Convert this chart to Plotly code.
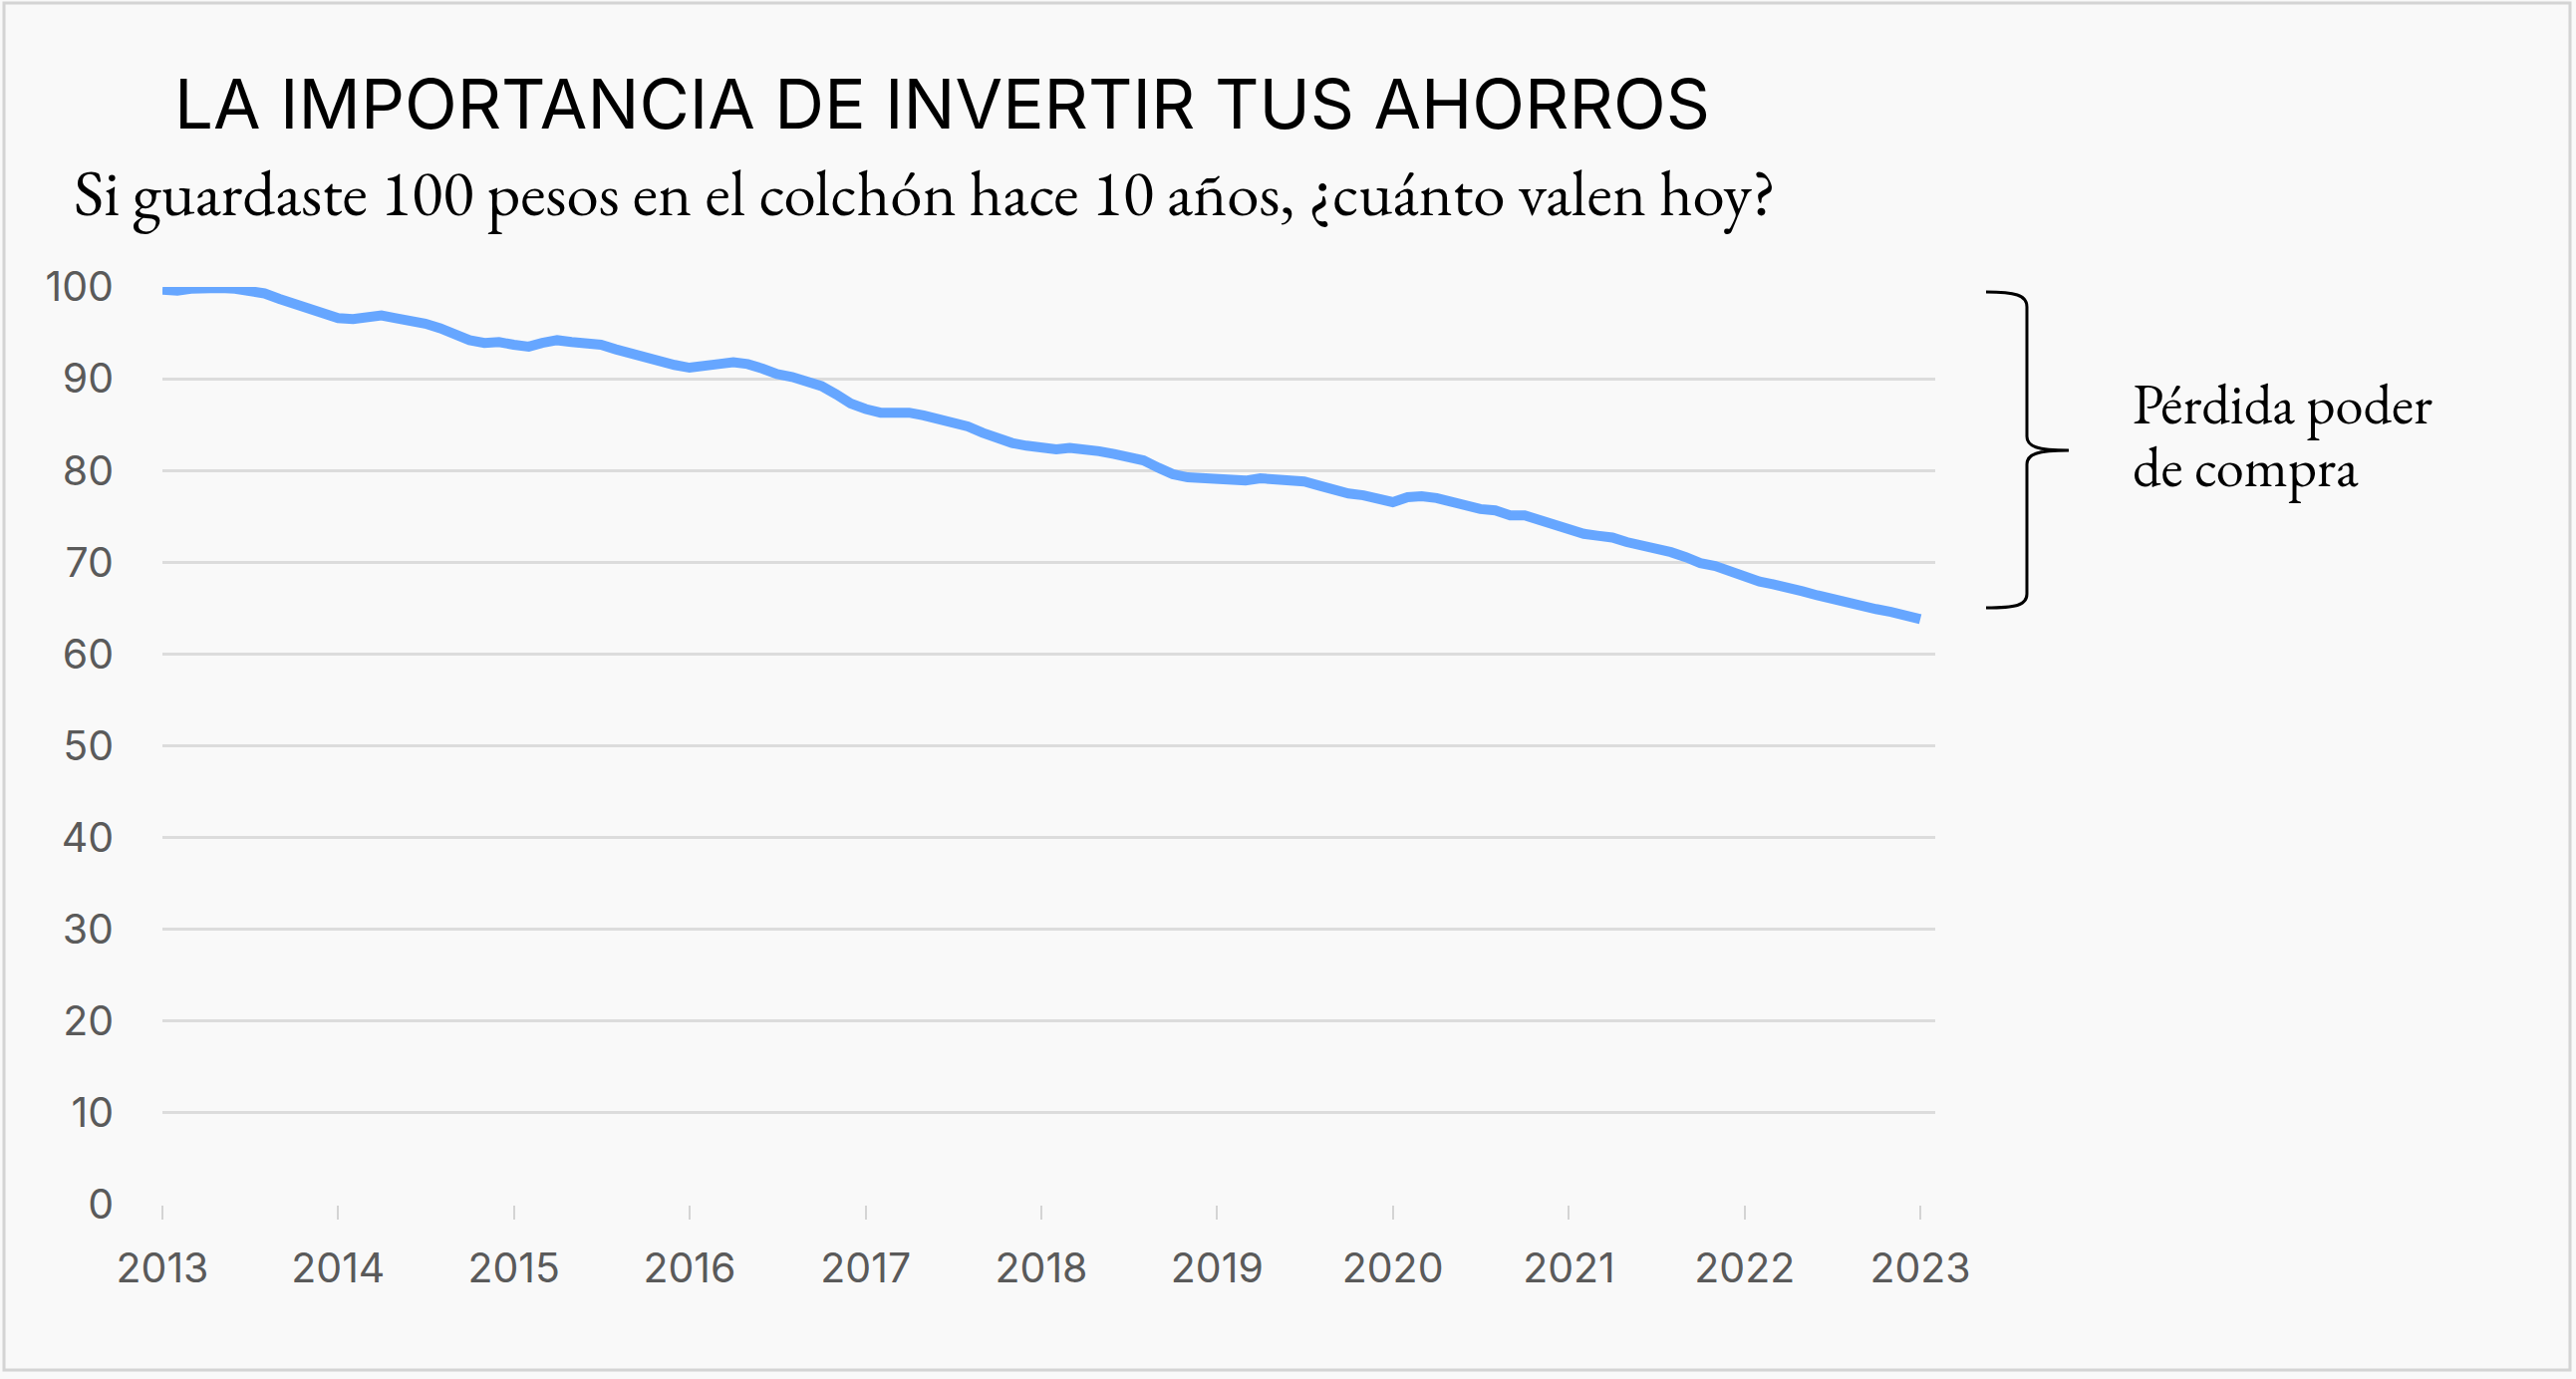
import plotly.graph_objects as go
import pandas as pd

# ---------------- data ----------------
start_month = "2013-01-01"
values = [
    99.7, 99.6, 99.8, 99.9, 99.9, 99.8, 99.6, 99.3, 98.7, 98.2, 97.5, 96.9,   # 2013
    96.6, 96.5, 96.7, 96.9, 96.6, 96.4, 96.0, 95.5, 94.9, 94.2, 93.9, 94.0,   # 2014
    93.7, 93.5, 93.9, 94.2, 94.0, 93.9, 93.7, 93.2, 92.7, 92.3, 91.9, 91.5,   # 2015
    91.2, 91.3, 91.6, 91.8, 91.6, 91.1, 90.5, 90.2, 89.6, 89.2, 88.3, 87.3,   # 2016
    86.7, 86.3, 86.3, 86.3, 86.0, 85.6, 85.2, 84.8, 84.1, 83.5, 83.0, 82.7,   # 2017
    82.4, 82.3, 82.45, 82.4, 82.1, 81.8, 81.5, 81.1, 80.3, 79.6, 79.25, 79.2, # 2018
    79.2, 78.9, 78.9, 79.15, 79.05, 78.9, 78.8, 78.35, 77.8, 77.5, 77.3, 76.9,# 2019
    76.55, 77.1, 77.2, 77.0, 76.6, 76.1, 75.8, 75.65, 75.1, 75.1, 74.6, 74.1, # 2020
    73.55, 73.1, 72.9, 72.7, 72.2, 71.85, 71.6, 71.1, 70.55, 69.9, 69.6, 69.0,# 2021
    68.5, 67.9, 67.6, 67.3, 66.85, 66.4, 65.97, 65.5, 65.1, 64.9, 64.6, 64.1, # 2022
    63.8,                                                                     # 2023
]
dates = pd.date_range(start_month, periods=len(values), freq="MS")

year_ticks = [f"{y}-01-01" for y in range(2013, 2024)]
year_labels = [str(y) for y in range(2013, 2024)]
y_ticks = list(range(0, 101, 10))

title_text = "LA IMPORTANCIA DE INVERTIR TUS AHORROS"
subtitle_text = "Si guardaste 100 pesos en el colchón hace 10 años, ¿cuánto valen hoy?"
brace_text_1 = "Pérdida poder"
brace_text_2 = "de compra"

# ---------------- layout geometry (pixels) ----------------
W, H = 2585, 1384
PL, PR, PT, PB = 163, 1942, 288, 1209
PW, PH = PR - PL, PB - PT


def xp(px):
    return (px - PL) / PW


def yp(py):
    return (PB - py) / PH


fig = go.Figure()
fig.add_trace(go.Scatter(
    x=dates, y=values, mode="lines",
    line=dict(color="#66A6FF", width=10),
    hoverinfo="skip", showlegend=False,
))

tick_font = dict(family="Inter, Poppins, Lato, sans-serif", size=41, color="#5a5a5a")

fig.update_xaxes(
    type="date",
    range=["2013-01-01", "2023-02-01"],
    tickvals=year_ticks, ticktext=year_labels,
    showgrid=False, zeroline=False, showline=False,
    ticks="outside", ticklen=14, tickwidth=2, tickcolor="#d4d4d4",
    tickfont=tick_font,
    ticklabelstandoff=14,
)
fig.update_yaxes(
    range=[0, 100],
    tickvals=y_ticks,
    showgrid=True, gridcolor="#dcdcdc", gridwidth=2.5,
    zeroline=False, showline=False,
    ticks="", tickfont=tick_font,
    ticklabelstandoff=48,
)


def path_from(points_cmds):
    out = []
    for cmd in points_cmds:
        op = cmd[0]
        coords = cmd[1:]
        s = op + " " + " ".join(f"{xp(x):.5f},{yp(y):.5f}" for x, y in coords)
        out.append(s)
    return " ".join(out)


brace_path = path_from([
    ("M", (1993, 293)),
    ("C", (2022, 293), (2034, 296), (2034, 308)),
    ("L", (2034, 438)),
    ("C", (2034, 448), (2044, 452), (2076, 452)),
    ("M", (2076, 452)),
    ("C", (2044, 452), (2034, 456), (2034, 466)),
    ("L", (2034, 596)),
    ("C", (2034, 608), (2022, 610), (1993, 610)),
])

shapes = [
    dict(type="rect", xref="paper", yref="paper",
         x0=xp(4), x1=xp(2579), y0=yp(3), y1=yp(1375),
         line=dict(color="#d4d4d4", width=3), fillcolor="rgba(0,0,0,0)", layer="below"),
    dict(type="path", xref="paper", yref="paper", path=brace_path,
         line=dict(color="#000000", width=3)),
]

serif = "EB Garamond, Liberation Serif, Times New Roman, serif"
annotations = [
    dict(text=title_text, x=xp(173), y=yp(104), xref="paper", yref="paper",
         xanchor="left", yanchor="middle", showarrow=False,
         font=dict(family="Inter, Poppins, sans-serif", size=69, color="#000000")),
    dict(text=subtitle_text, x=xp(72), y=yp(193), xref="paper", yref="paper",
         xanchor="left", yanchor="middle", showarrow=False,
         font=dict(family=serif, size=65, color="#000000")),
    dict(text=brace_text_1, x=xp(2138), y=yp(405), xref="paper", yref="paper",
         xanchor="left", yanchor="middle", showarrow=False,
         font=dict(family=serif, size=56.5, color="#000000")),
    dict(text=brace_text_2, x=xp(2138), y=yp(468), xref="paper", yref="paper",
         xanchor="left", yanchor="middle", showarrow=False,
         font=dict(family=serif, size=56.5, color="#000000")),
]

fig.update_layout(
    width=W, height=H,
    margin=dict(l=PL, r=W - PR, t=PT, b=H - PB, pad=0),
    paper_bgcolor="#f9f9f9", plot_bgcolor="#f9f9f9",
    shapes=shapes, annotations=annotations,
    showlegend=False,
)

fig.write_html("out.html", config={"displayModeBar": False},
               post_script="document.body.style.margin='0';document.body.style.overflow='hidden';")
